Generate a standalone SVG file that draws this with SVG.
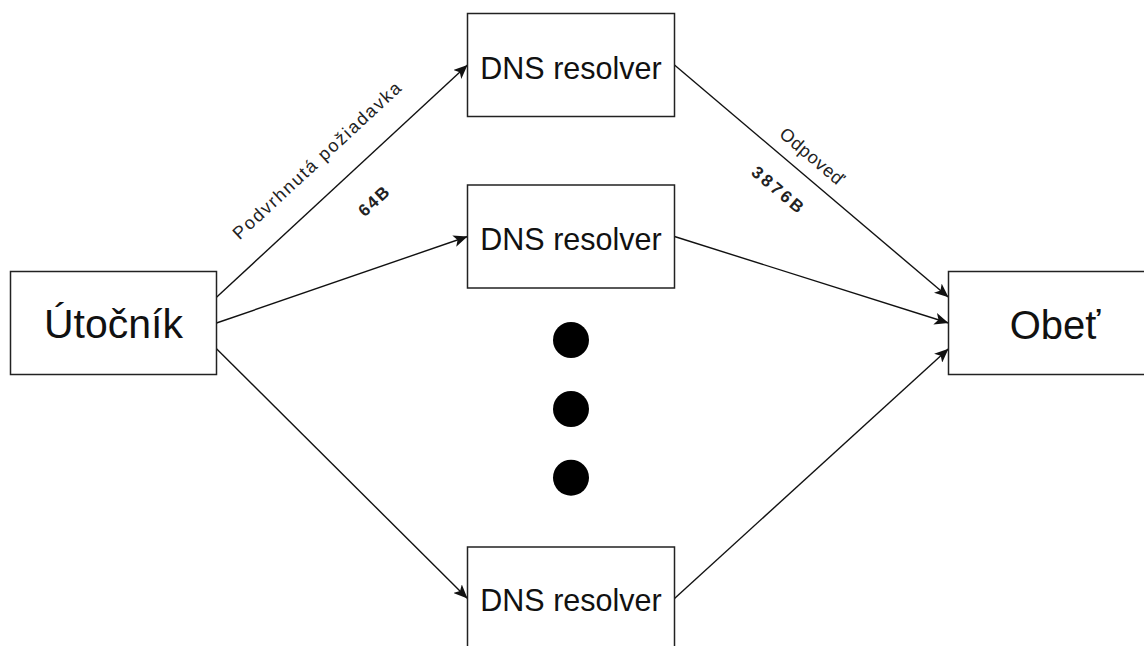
<svg xmlns="http://www.w3.org/2000/svg" width="1144" height="646" viewBox="0 0 1144 646">
<style>
.box{fill:#fff;stroke:#222;stroke-width:1.5}
.main{font-family:"Liberation Sans",Arial,sans-serif;fill:#111;text-anchor:middle}
.lbl{font-family:"Liberation Sans",Arial,sans-serif;fill:#222;font-size:18px;text-anchor:middle}
.b{font-weight:bold;font-size:17px}
.edge{fill:none;stroke:#111;stroke-width:1.4;marker-end:url(#arr)}
</style>
<defs>
<marker id="arr" markerUnits="userSpaceOnUse" markerWidth="15" markerHeight="12" refX="14" refY="6" orient="auto">
<path d="M0,0 L14,6 L0,12 L3.5,6 Z" fill="#111"/>
</marker>
</defs>
<rect width="1144" height="646" fill="#fff"/>
<g id="connectors">
<path class="edge" d="M216.5,297.25 L467.5,65"/>
<path class="edge" d="M216.5,323 L467.5,236.5"/>
<path class="edge" d="M216.5,348.75 L467.5,598.5"/>
<path class="edge" d="M674.5,65 L948.5,297.25"/>
<path class="edge" d="M674.5,236.5 L948.5,323"/>
<path class="edge" d="M674.5,598.5 L948.5,348.75"/>
<text class="lbl" x="321" y="165" transform="rotate(-42.78 321 165)" textLength="222" lengthAdjust="spacing">Podvrhnutá požiadavka</text>
<text class="lbl b" x="377.6" y="205.5" transform="rotate(-42.78 377.6 205.5)" textLength="35" lengthAdjust="spacing">64B</text>
<text class="lbl" x="808" y="161" transform="rotate(40.29 808 161)" textLength="78" lengthAdjust="spacing">Odpoveď</text>
<text class="lbl b" x="774" y="194" transform="rotate(40.29 774 194)" textLength="62" lengthAdjust="spacing">3876B</text>
</g>
<g id="utocnik">
<rect class="box" x="10.5" y="271.5" width="206" height="103"/>
<text class="main" x="113.5" y="337.5" font-size="41">Útočník</text>
</g>
<g id="resolver1">
<rect class="box" x="467.5" y="13.5" width="207" height="103"/>
<text class="main" x="571" y="78.5" font-size="30.5">DNS resolver</text>
</g>
<g id="resolver2">
<rect class="box" x="467.5" y="185" width="207" height="103"/>
<text class="main" x="571" y="250" font-size="30.5">DNS resolver</text>
</g>
<g id="resolver3">
<rect class="box" x="467.5" y="547" width="207" height="103"/>
<text class="main" x="571" y="611" font-size="30.5">DNS resolver</text>
</g>
<g id="obet">
<rect class="box" x="948.5" y="271.5" width="207" height="103"/>
<text class="main" x="1055" y="339" font-size="40">Obeť</text>
</g>
<g id="dots">
<circle cx="571" cy="340" r="18" fill="#000"/>
<circle cx="571" cy="409" r="18" fill="#000"/>
<circle cx="571" cy="477.7" r="18" fill="#000"/>
</g>
</svg>
